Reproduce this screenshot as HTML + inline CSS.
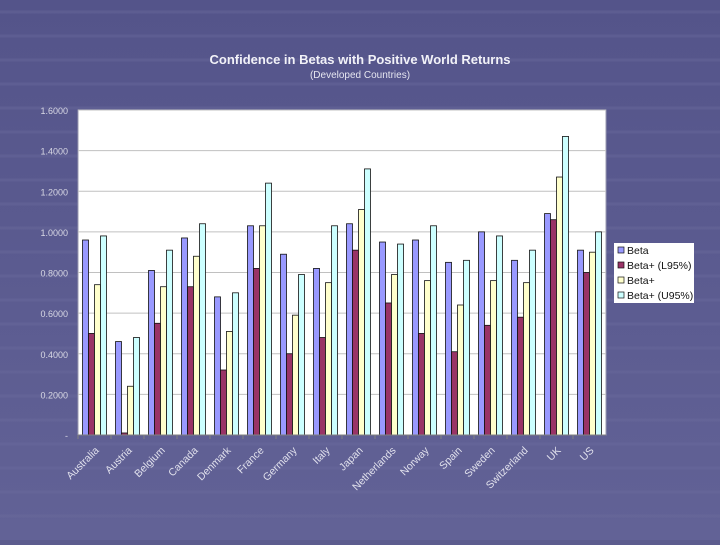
<!DOCTYPE html>
<html><head><meta charset="utf-8"><style>
html,body{margin:0;padding:0}
body{width:720px;height:540px;overflow:hidden;background:#5c5c8e;font-family:"Liberation Sans",sans-serif}
</style></head><body>
<svg id="c" width="720" height="540" xmlns="http://www.w3.org/2000/svg">
<defs><linearGradient id="bg" x1="0" y1="0" x2="0" y2="1"><stop offset="0" stop-color="#54548a"/><stop offset="1" stop-color="#626296"/></linearGradient></defs>
<rect width="720" height="540" fill="url(#bg)"/>
<g id="pattern" stroke="#6e6ea0" stroke-width="3" opacity="0.35"></g>
<text x="360" y="64" text-anchor="middle" fill="#f2f2f8" font-size="13" font-weight="bold">Confidence in Betas with Positive World Returns</text>
<text x="360" y="78" text-anchor="middle" fill="#e6e6f0" font-size="10">(Developed Countries)</text>
<rect x="78" y="110" width="528" height="325" fill="#ffffff" stroke="#9a9ab0"/>
<g id="grid"></g><g id="bars"></g><g id="axes"></g>
<g>
<rect x="614" y="243" width="80" height="60" fill="#ffffff"/>
<g id="legend"></g>
</g>
</svg>
<script>
const categories=["Australia","Austria","Belgium","Canada","Denmark","France","Germany","Italy","Japan","Netherlands","Norway","Spain","Sweden","Switzerland","UK","US"];
const beta=[0.96,0.46,0.81,0.97,0.68,1.03,0.89,0.82,1.04,0.95,0.96,0.85,1.00,0.86,1.09,0.91];
const betaL95=[0.50,0.01,0.55,0.73,0.32,0.82,0.40,0.48,0.91,0.65,0.50,0.41,0.54,0.58,1.06,0.80];
const betaPlus=[0.74,0.24,0.73,0.88,0.51,1.03,0.59,0.75,1.11,0.79,0.76,0.64,0.76,0.75,1.27,0.90];
const betaU95=[0.98,0.48,0.91,1.04,0.70,1.24,0.79,1.03,1.31,0.94,1.03,0.86,0.98,0.91,1.47,1.00];
const seriesNames=["Beta","Beta+ (L95%)","Beta+","Beta+ (U95%)"];
const yTicks=[0,0.2,0.4,0.6,0.8,1.0,1.2,1.4,1.6];
const yTickLabels=["-","0.2000","0.4000","0.6000","0.8000","1.0000","1.2000","1.4000","1.6000"];
const colors=["#9999ff","#993366","#ffffcc","#ccffff"];
const NS="http://www.w3.org/2000/svg";
const X0=78,X1=606,Y0=435,Y1=110,YMAX=1.6;
const y=v=>Y0-(v/YMAX)*(Y0-Y1);
const gw=(X1-X0)/categories.length;
const gx=i=>X0+i*gw;
function mk(t,a,p){const e=document.createElementNS(NS,t);for(const k in a)e.setAttribute(k,a[k]);p.appendChild(e);return e;}
const pat=document.getElementById('pattern');
for(let yy=12;yy<540;yy+=24){mk('line',{x1:0,y1:yy,x2:720,y2:yy},pat);}
const grid=document.getElementById('grid'),axes=document.getElementById('axes'),bars=document.getElementById('bars');
yTicks.forEach((t,i)=>{
 if(t>0){const g=mk('line',{x1:X0,x2:X1,y1:y(t),y2:y(t),stroke:'#c0c0c0','stroke-width':1},grid);
 
 }
 const l=mk('text',{x:68,y:y(t)+4,'text-anchor':'end',fill:'#d8d8e4','font-size':9},axes);
 l.textContent=yTickLabels[i];
 
 
});
mk('line',{x1:X0,x2:X1,y1:Y0,y2:Y0,stroke:'#808080'},axes);
const series=[beta,betaL95,betaPlus,betaU95];
const bw=6,off=(gw-4*bw)/2;
categories.forEach((c,i)=>{
 mk('line',{x1:gx(i),x2:gx(i),y1:Y0,y2:Y0+4,stroke:'#808080'},axes);
 series.forEach((s,j)=>{
  const r=mk('rect',{x:gx(i)+off+j*bw,y:y(s[i]),width:bw,height:Y0-y(s[i]),fill:colors[j],stroke:'#111','stroke-width':0.8},bars);
  
  
 });
 const cx=gx(i)+gw/2+5, cy=Y0+16;
 const t=mk('text',{x:cx,y:cy,'text-anchor':'end',fill:'#e0e0ec','font-size':10.5,transform:`rotate(-45 ${cx} ${cy})`},axes);
 t.textContent=c;
 
 
});
const lg=document.getElementById('legend');
seriesNames.forEach((n,j)=>{
 const yy=250+j*15;
 mk('rect',{x:618,y:yy-3,width:6,height:6,fill:colors[j],stroke:'#111','stroke-width':0.7},lg);
 const t=mk('text',{x:627,y:yy+4,fill:'#111','font-size':10.5},lg);
 t.textContent=n;
 
 
});
</script>
</body></html>
